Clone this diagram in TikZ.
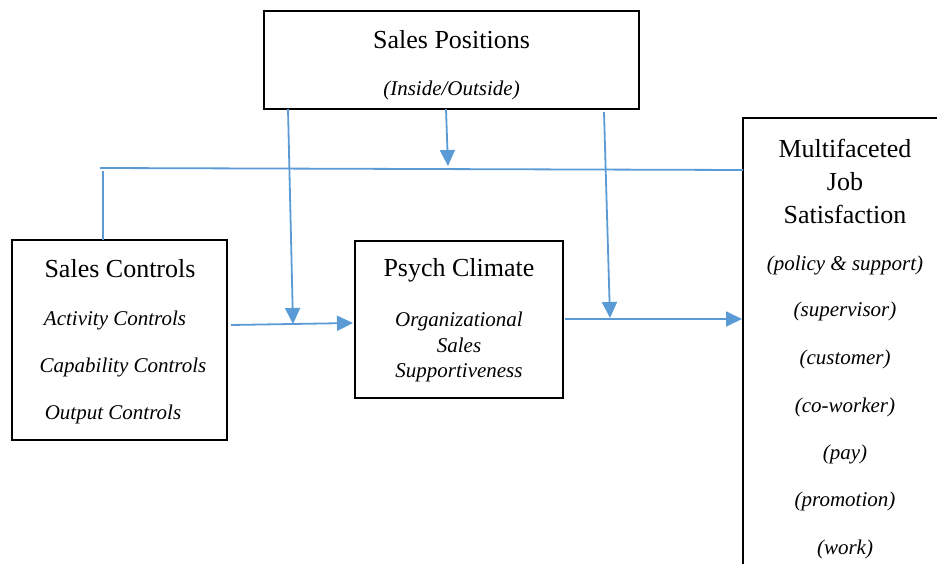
\documentclass[tikz,border=0pt]{standalone}
\usepackage{fontspec}
\setmainfont{Liberation Serif}
\usetikzlibrary{arrows.meta}
\definecolor{linkblue}{HTML}{5B9BD5}
\tikzset{
  box/.style={draw=black, line width=2.6pt, fill=none},
  ttl/.style={font=\fontsize{26}{33}\selectfont, align=center, inner sep=0pt},
  sub/.style={font=\fontsize{21}{25.5}\selectfont\itshape, align=center, inner sep=0pt},
  link/.style={draw=linkblue, line width=1.8pt},
  arr/.style={link, -{Triangle[width=15pt,length=16pt]}},
}
\begin{document}
\begin{tikzpicture}[x=1pt, y=-1pt]
\useasboundingbox (0,0) rectangle (937,564);
\clip (0,0) rectangle (937,564);

% boxes
\draw[box] (264,11) rectangle (639,109);
\node (sp) at (451.5,60) {};
\draw[box] (12,240) rectangle (227,440);
\node (sc) at (120,340) {};
\draw[box] (355,241) rectangle (563,398);
\node (pc) at (459,320) {};
\draw[box] (743,118) rectangle (990,620);
\node (mf) at (845,340) {};

% box texts
\node[ttl] (spT) at (451.5,40) {Sales Positions};
\node[sub] (spS) at (451.5,90) {(Inside/Outside)};

\node[ttl] (scT) at (120,269) {Sales Controls};
\node[sub] (scA) at (115,320) {Activity Controls};
\node[sub] (scB) at (123,367) {Capability Controls};
\node[sub] (scC) at (113,414) {Output Controls};

\node[ttl] (pcT) at (459,270) {Psych Climate};
\node[sub] (pcS) at (459,347) {Organizational\\Sales\\Supportiveness};

\node[ttl] (mfT) at (845,181) {Multifaceted\\Job\\Satisfaction};
\node[sub] (mf1) at (845,265) {(policy \& support)};
\node[sub] (mf2) at (845,311) {(supervisor)};
\node[sub] (mf3) at (845,359) {(customer)};
\node[sub] (mf4) at (845,407) {(co-worker)};
\node[sub] (mf5) at (845,454) {(pay)};
\node[sub] (mf6) at (845,501) {(promotion)};
\node[sub] (mf7) at (845,549) {(work)};

% connector anchor points
\coordinate (scOut) at (231,325);
\coordinate (pcIn) at (353,323);
\coordinate (pcOut) at (565,319);
\coordinate (mfIn) at (742,319);
\coordinate (spA) at (288,109);
\coordinate (spB) at (446,109);
\coordinate (spC) at (604,112);
\coordinate (jA) at (293,324);
\coordinate (jB) at (448,166);
\coordinate (jC) at (610,318);
\coordinate (busL) at (100,168);
\coordinate (busR) at (743,170);
\coordinate (scTop) at (103,240);
\coordinate (busDrop) at (103,171);

% connectors
\draw[arr] (scOut) -- (pcIn);
\draw[arr] (pcOut) -- (mfIn);
\draw[arr] (spA) -- (jA);
\draw[arr] (spB) -- (jB);
\draw[arr] (spC) -- (jC);
\draw[link] (busL) -- (busR);
\draw[link] (busDrop) -- (scTop);
\end{tikzpicture}
\end{document}
